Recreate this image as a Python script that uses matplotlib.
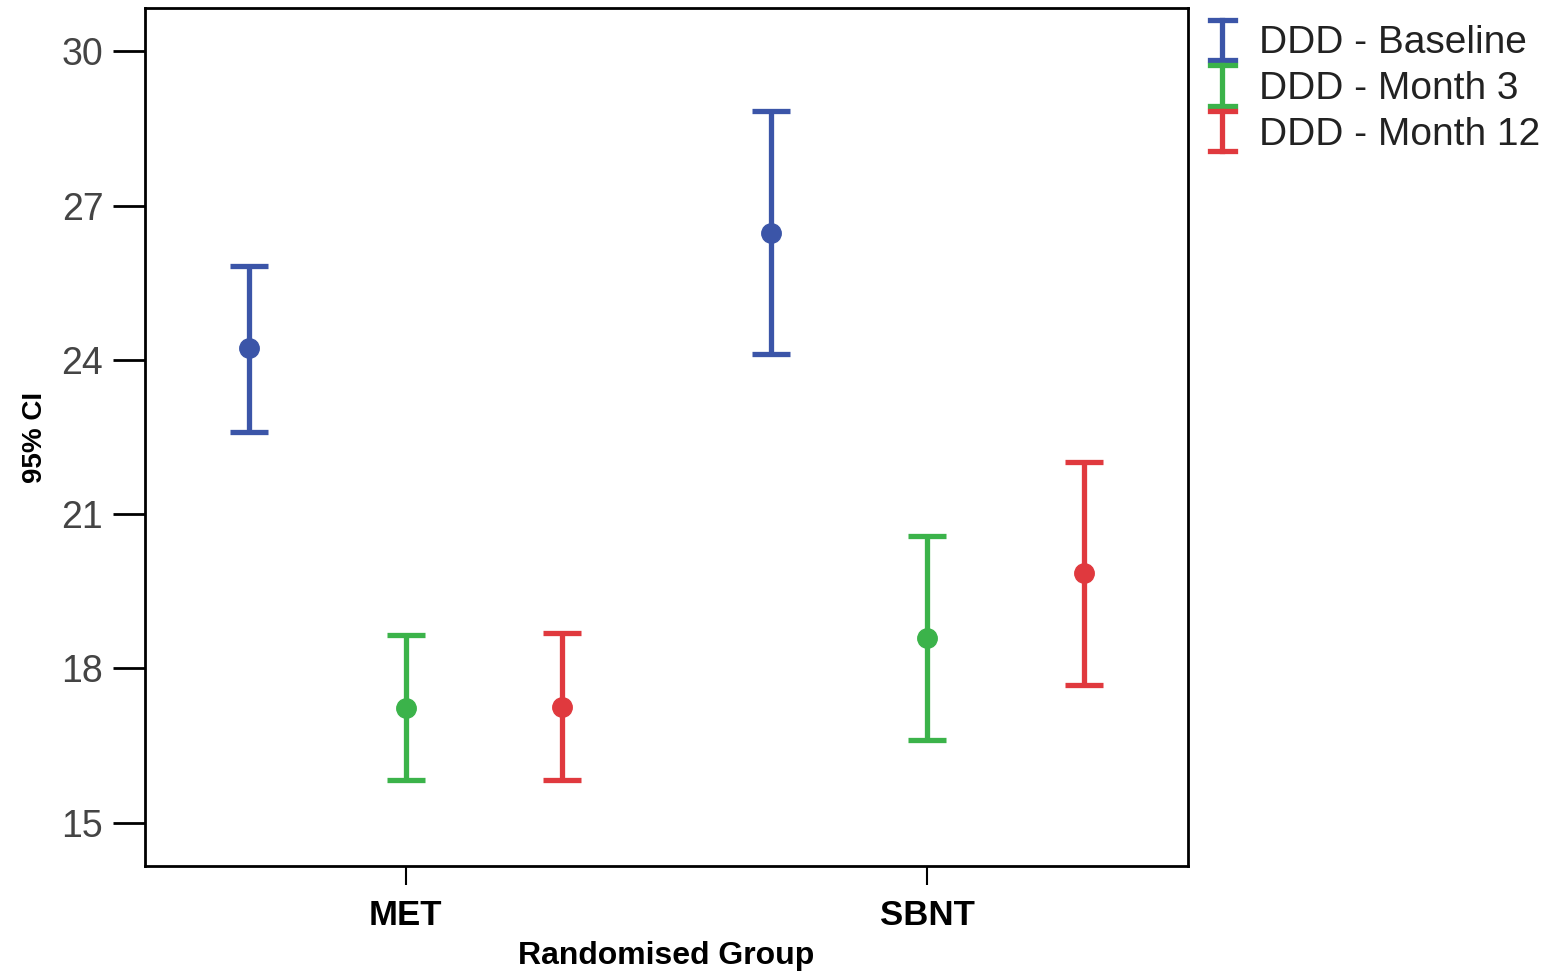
import matplotlib
matplotlib.use("Agg")
import matplotlib.pyplot as plt
from matplotlib.lines import Line2D
from matplotlib.legend_handler import HandlerBase
import numpy as np

plt.rcParams['font.family'] = ['Liberation Sans', 'DejaVu Sans']

groups = ["MET", "SBNT"]
series = ["DDD - Baseline", "DDD - Month 3", "DDD - Month 12"]
colors = ["#3b55a8", "#3bb34a", "#e0393e"]
means = [[24.23, 26.46], [17.24, 18.60], [17.25, 19.86]]
upper = [[25.82, 28.83], [18.65, 20.58], [18.69, 22.01]]
lower = [[22.60, 24.11], [15.84, 16.61], [15.84, 17.68]]
offsets = [-0.3, 0.0, 0.3]
yticks = [15, 18, 21, 24, 27, 30]

fig = plt.figure(figsize=(15.64, 9.74), dpi=100)
ax = fig.add_axes([0.0927, 0.1109, 0.667, 0.8809])

x = np.arange(len(groups))
for i, name in enumerate(series):
    m = np.array(means[i]); u = np.array(upper[i]); l = np.array(lower[i])
    ax.errorbar(x + offsets[i], m, yerr=[m - l, u - m], fmt='o', color=colors[i],
                ecolor=colors[i], elinewidth=3.8, capsize=14, capthick=3.8,
                markersize=14, label=name)

ax.set_xlim(-0.5, 1.5)
ax.set_ylim(14.16, 30.84)
ax.set_yticks(yticks)
ax.set_yticklabels([str(t) for t in yticks], fontsize=27, color="#444444")
ax.set_xticks(x)
ax.set_xticklabels(groups, fontsize=25, fontweight='bold')
ax.tick_params(axis='y', length=23, width=2, pad=7)
ax.tick_params(axis='x', length=14, width=1.5, pad=10)
for s in ax.spines.values():
    s.set_linewidth(2)
ax.set_xlabel("Randomised Group", fontsize=23, fontweight='bold', labelpad=6)
ax.set_ylabel("95% CI", fontsize=20, fontweight='bold', labelpad=10)


class IHandler(HandlerBase):
    def create_artists(self, legend, orig_handle, xdescent, ydescent, width, height, fontsize, trans):
        c = orig_handle.get_color()
        cx = width / 2 - xdescent
        h = 29.0
        yc = height / 2 - ydescent
        y0 = yc - h / 2
        y1 = yc + h / 2
        cw = 9.0
        return [
            Line2D([cx, cx], [y0, y1], color=c, lw=3.8, transform=trans),
            Line2D([cx - cw, cx + cw], [y0, y0], color=c, lw=3.8, transform=trans),
            Line2D([cx - cw, cx + cw], [y1, y1], color=c, lw=3.8, transform=trans),
        ]


handles = [Line2D([], [], color=c) for c in colors]
leg = fig.legend(handles, series, loc='upper left', bbox_to_anchor=(0.7617, 0.99),
                 frameon=False, fontsize=28, handler_map={Line2D: IHandler()},
                 handlelength=0.8, handletextpad=0.54, labelspacing=0.25,
                 borderaxespad=0)
for t in leg.get_texts():
    t.set_color("#222222")

fig.savefig("out.png", dpi=100)
